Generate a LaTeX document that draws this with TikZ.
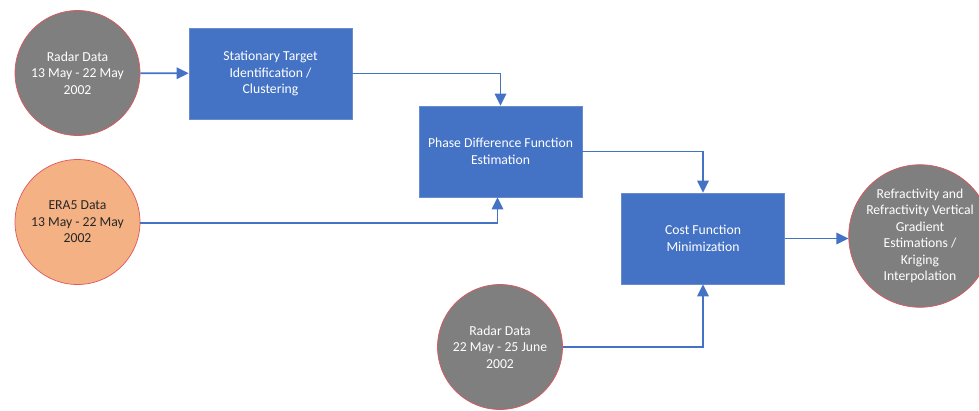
\documentclass[tikz,border=0pt]{standalone}
\usepackage{fontspec}
\setmainfont{Carlito}
\usetikzlibrary{arrows.meta}
\definecolor{boxblue}{HTML}{4472C4}
\definecolor{boxedge}{HTML}{6A8CCB}
\definecolor{circgray}{HTML}{7F7F7F}
\definecolor{circedge}{HTML}{E0575E}
\definecolor{eraorange}{HTML}{F4B183}
\definecolor{txtdark}{HTML}{262626}
\tikzset{
  txt/.style={font=\fontsize{13.7}{16.5}\selectfont, align=center},
  procbox/.style={txt, rectangle, fill=boxblue, draw=boxedge, line width=0.7pt,
    minimum width=163pt, minimum height=91pt, inner sep=0pt, text=white},
  datacirc/.style={txt, circle, fill=circgray, draw=circedge, line width=0.7pt,
    minimum size=125pt, inner sep=0pt, text=white},
  conn/.style={draw=boxblue, line width=1.7pt, -{Triangle[length=12pt,width=11.5pt]}}
}
\begin{document}
\begin{tikzpicture}[x=1pt,y=-1pt]
\useasboundingbox (0,0) rectangle (979,410);
\node[datacirc] (r1) at (77.5,73) {Radar Data\\13 May - 22 May\\2002};
\node[datacirc, fill=eraorange, text=txtdark] (era) at (77.5,222) {ERA5 Data\\13 May - 22 May\\2002};
\node[datacirc] (r2) at (500,347) {Radar Data\\22 May - 25 June\\2002};
\node[datacirc, minimum size=126pt] (r4) at (920,236) {Refractivity and\\Refractivity Vertical\\Gradient\\Estimations /\\Kriging\\Interpolation};
\node[procbox] (b1) at (270.5,73.5) {Stationary Target\\Identification /\\Clustering};
\node[procbox] (b2) at (500.5,151.5) {Phase Difference Function\\Estimation};
\node[procbox] (b3) at (703,238.5) {Cost Function\\Minimization};
\draw[conn] (r1) -- (b1);
\draw[conn] (b1.east) -| (b2.north);
\draw[conn] ([yshift=-1pt]era.east) -| ([xshift=-3pt]b2.south);
\draw[conn] (b2.east) -| (b3.north);
\draw[conn] (r2.east) -| (b3.south);
\draw[conn] (b3.east) -- (b3.east -| r4.west);
\end{tikzpicture}
\end{document}
